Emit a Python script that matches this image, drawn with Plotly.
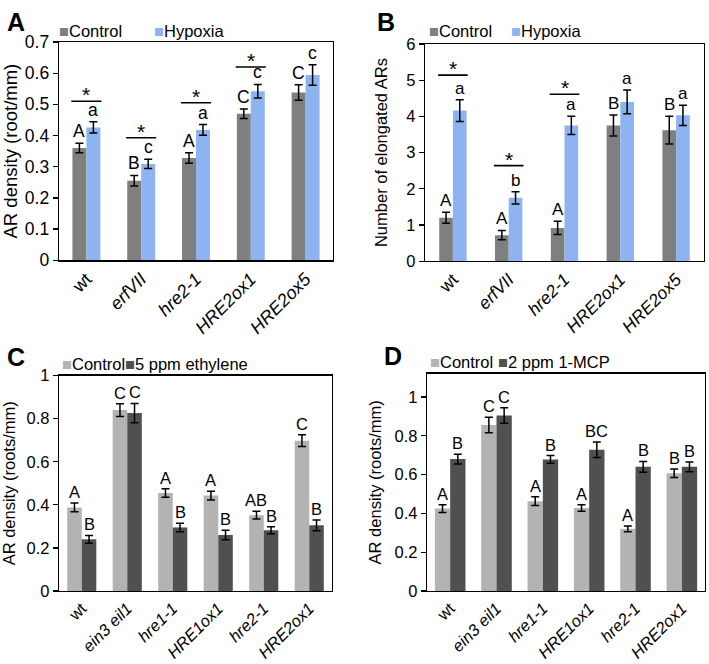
import plotly.graph_objects as go

W, H = 709, 664
FONT = "Arial, Liberation Sans, Helvetica, sans-serif"

# ---------------- Panel A ----------------
a_genotypes = ["wt", "erfVII", "hre2-1", "HRE2ox1", "HRE2ox5"]
a_ticktext = ["wt", "<i>erfVII</i>", "<i>hre2-1</i>", "<i>HRE2ox1</i>", "<i>HRE2ox5</i>"]
a_control = [0.360, 0.255, 0.328, 0.470, 0.538]
a_control_err = [0.015, 0.017, 0.017, 0.015, 0.025]
a_hypoxia = [0.426, 0.309, 0.418, 0.542, 0.594]
a_hypoxia_err = [0.018, 0.015, 0.017, 0.022, 0.033]
a_control_letters = ["A", "B", "A", "C", "C"]
a_hypoxia_letters = ["a", "c", "a", "c", "c"]
a_sig_index = [0, 1, 2, 3]
a_sig_y = [0.510, 0.393, 0.505, 0.620]

# ---------------- Panel B ----------------
b_genotypes = ["wt", "erfVII", "hre2-1", "HRE2ox1", "HRE2ox5"]
b_ticktext = ["wt", "<i>erfVII</i>", "<i>hre2-1</i>", "<i>HRE2ox1</i>", "<i>HRE2ox5</i>"]
b_control = [1.20, 0.72, 0.92, 3.75, 3.62]
b_control_err = [0.15, 0.13, 0.18, 0.29, 0.38]
b_hypoxia = [4.16, 1.75, 3.75, 4.40, 4.03]
b_hypoxia_err = [0.30, 0.17, 0.25, 0.33, 0.28]
b_control_letters = ["A", "A", "A", "B", "B"]
b_hypoxia_letters = ["a", "b", "a", "a", "a"]
b_sig_index = [0, 1, 2]
b_sig_y = [5.14, 2.64, 4.61]

# ---------------- Panel C ----------------
c_genotypes = ["wt", "ein3 eil1", "hre1-1", "HRE1ox1", "hre2-1", "HRE2ox1"]
c_ticktext = ["wt", "<i>ein3 eil1</i>", "<i>hre1-1</i>", "<i>HRE1ox1</i>", "<i>hre2-1</i>", "<i>HRE2ox1</i>"]
c_control = [0.388, 0.840, 0.455, 0.443, 0.352, 0.698]
c_control_err = [0.020, 0.030, 0.020, 0.020, 0.018, 0.027]
c_ethylene = [0.240, 0.826, 0.295, 0.260, 0.282, 0.305]
c_ethylene_err = [0.018, 0.045, 0.020, 0.022, 0.016, 0.025]
c_control_letters = ["A", "C", "A", "A", "AB", "C"]
c_ethylene_letters = ["B", "C", "B", "B", "B", "B"]

# ---------------- Panel D ----------------
d_genotypes = ["wt", "ein3 eil1", "hre1-1", "HRE1ox1", "hre2-1", "HRE2ox1"]
d_ticktext = ["wt", "<i>ein3 eil1</i>", "<i>hre1-1</i>", "<i>HRE1ox1</i>", "<i>hre2-1</i>", "<i>HRE2ox1</i>"]
d_control = [0.425, 0.855, 0.463, 0.428, 0.320, 0.607]
d_control_err = [0.020, 0.040, 0.022, 0.017, 0.015, 0.022]
d_mcp = [0.680, 0.905, 0.678, 0.728, 0.640, 0.640]
d_mcp_err = [0.025, 0.040, 0.020, 0.040, 0.028, 0.025]
d_control_letters = ["A", "C", "A", "A", "A", "B"]
d_mcp_letters = ["B", "C", "B", "BC", "B", "B"]

# colours
DARK_GREY = "#7f7f7f"
LIGHT_BLUE = "#8db4f0"
LIGHT_GREY = "#b3b3b3"
CHARCOAL = "#505050"


def xdom(p0, p1):
    return [p0 / W, p1 / W]


def ydom(top, bottom):
    return [1 - bottom / H, 1 - top / H]


panels = [
    dict(ax="", cats=a_genotypes, tt=a_ticktext, s1=a_control, e1=a_control_err, s2=a_hypoxia,
         e2=a_hypoxia_err, l1=a_control_letters, l2=a_hypoxia_letters, c1=DARK_GREY, c2=LIGHT_BLUE,
         bw=0.255, yr=[0, 0.7], dt=0.1, fs_y=17.5, fs_x=18, fs_t=18.5, fs_l=17.5,
         title="AR density (root/mm)", xd=xdom(59, 333), yd=ydom(33, 258), standoff=10,
         sig=(a_sig_index, a_sig_y)),
    dict(ax="2", cats=b_genotypes, tt=b_ticktext, s1=b_control, e1=b_control_err, s2=b_hypoxia,
         e2=b_hypoxia_err, l1=b_control_letters, l2=b_hypoxia_letters, c1=DARK_GREY, c2=LIGHT_BLUE,
         bw=0.245, yr=[0, 6], dt=1, fs_y=16.5, fs_x=17.5, fs_t=16.5, fs_l=17,
         title="Number of elongated ARs", xd=xdom(425, 704), yd=ydom(35, 259), standoff=14,
         sig=(b_sig_index, b_sig_y)),
    dict(ax="3", cats=c_genotypes, tt=c_ticktext, s1=c_control, e1=c_control_err, s2=c_ethylene,
         e2=c_ethylene_err, l1=c_control_letters, l2=c_ethylene_letters, c1=LIGHT_GREY, c2=CHARCOAL,
         bw=0.32, yr=[0, 1], dt=0.2, fs_y=16.5, fs_x=16.5, fs_t=16.5, fs_l=16.5,
         title="AR density (roots/mm)", xd=xdom(59, 332), yd=ydom(377, 599), standoff=14,
         sig=None),
    dict(ax="4", cats=d_genotypes, tt=d_ticktext, s1=d_control, e1=d_control_err, s2=d_mcp,
         e2=d_mcp_err, l1=d_control_letters, l2=d_mcp_letters, c1=LIGHT_GREY, c2=CHARCOAL,
         bw=0.33, yr=[0, 1.12], dt=0.2, fs_y=16.5, fs_x=16.5, fs_t=16.5, fs_l=16.5,
         title="AR density (roots/mm)", xd=xdom(427, 705), yd=ydom(375, 599), standoff=8,
         sig=None),
]

fig = go.Figure()
annotations = []
shapes = []
layout = {}

for p in panels:
    xa, ya = "x" + p["ax"], "y" + p["ax"]
    bw = p["bw"]
    errstyle = dict(type="data", color="black", thickness=1.5, width=4)
    fig.add_trace(go.Bar(x=p["cats"], y=p["s1"], error_y=dict(array=p["e1"], **errstyle),
                         marker=dict(color=p["c1"], line=dict(width=0)), width=bw, offset=-bw,
                         showlegend=False, xaxis=xa, yaxis=ya))
    fig.add_trace(go.Bar(x=p["cats"], y=p["s2"], error_y=dict(array=p["e2"], **errstyle),
                         marker=dict(color=p["c2"], line=dict(width=0)), width=bw, offset=0,
                         showlegend=False, xaxis=xa, yaxis=ya))
    # letters
    for i in range(len(p["cats"])):
        for val, err, lab, sh in ((p["s1"][i], p["e1"][i], p["l1"][i], -bw / 2),
                                  (p["s2"][i], p["e2"][i], p["l2"][i], bw / 2)):
            annotations.append(dict(x=i + sh, y=val + err, xref=xa, yref=ya, text=lab,
                                    showarrow=False, yanchor="bottom", xanchor="center",
                                    yshift=0, font=dict(size=p["fs_l"], color="black")))
    # significance bars
    if p["sig"]:
        for i, yv in zip(*p["sig"]):
            shapes.append(dict(type="line", xref=xa, yref=ya, x0=i - bw - 0.02, x1=i + bw + 0.02,
                               y0=yv, y1=yv, line=dict(color="black", width=1.6)))
            annotations.append(dict(x=i, y=yv, xref=xa, yref=ya, text="*", showarrow=False,
                                    yanchor="bottom", yshift=-7, font=dict(size=21, color="black")))
    axis_common = dict(showline=True, mirror=True, linecolor="black", linewidth=1.3,
                       showgrid=False, zeroline=False)
    layout["xaxis" + p["ax"]] = dict(domain=p["xd"], anchor=ya, type="category",
                                     tickmode="array", tickvals=p["cats"], ticktext=p["tt"],
                                     tickangle=-45, ticks="", range=[-0.5, len(p["cats"]) - 0.5],
                                     tickfont=dict(size=p["fs_x"], color="black"), **axis_common)
    layout["yaxis" + p["ax"]] = dict(domain=p["yd"], anchor=xa, range=p["yr"], dtick=p["dt"],
                                     tick0=0, ticks="outside", ticklen=5, tickwidth=1.3,
                                     tickcolor="black", tickfont=dict(size=p["fs_y"], color="black"),
                                     title=dict(text=p["title"], standoff=p["standoff"],
                                                font=dict(size=p["fs_t"], color="black")),
                                     **axis_common)

# panel letters
for lab, x, y in (("A", 5, 12), ("B", 375, 12), ("C", 5, 358), ("D", 382, 357)):
    annotations.append(dict(x=x / W, y=1 - y / H, xref="paper", yref="paper", text="<b>%s</b>" % lab,
                            showarrow=False, xanchor="left", yanchor="middle",
                            font=dict(size=25, color="black")))

# legends (drawn as key squares + labels)
legend_items = [
    (57, 22, DARK_GREY, "Control"), (152, 22, LIGHT_BLUE, "Hypoxia"),
    (427, 22, DARK_GREY, "Control"), (509, 22, LIGHT_BLUE, "Hypoxia"),
    (60, 365, LIGHT_GREY, "Control"), (123, 365, CHARCOAL, "5 ppm ethylene"),
    (428, 363, LIGHT_GREY, "Control"), (496, 363, CHARCOAL, "2 ppm 1-MCP"),
]
for x, y, col, txt in legend_items:
    annotations.append(dict(x=x / W, y=1 - y / H, xref="paper", yref="paper",
                            text='<span style="color:%s">■</span>%s' % (col, txt),
                            showarrow=False, xanchor="left", yanchor="middle",
                            font=dict(size=16.5, color="black")))

fig.update_layout(
    width=W, height=H, margin=dict(l=0, r=0, t=0, b=0),
    paper_bgcolor="white", plot_bgcolor="white",
    font=dict(family=FONT, size=16, color="black"),
    barmode="overlay", showlegend=False, hovermode=False,
    annotations=annotations, shapes=shapes, **layout,
)

fig.write_html("out.html",
               config={"displayModeBar": False, "staticPlot": True},
               post_script="document.body.style.margin='0';document.body.style.overflow='hidden';")
